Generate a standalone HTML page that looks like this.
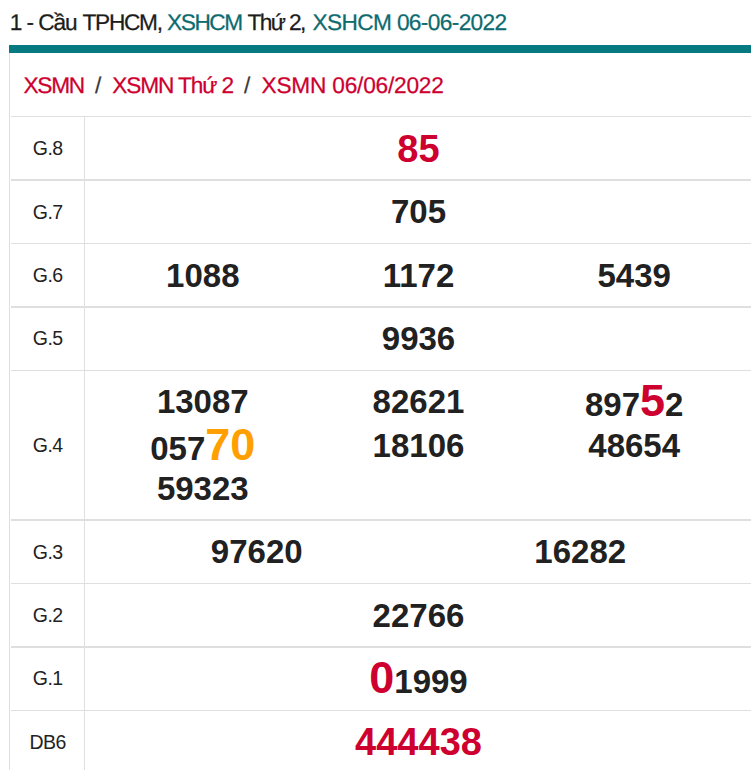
<!DOCTYPE html>
<html lang="vi">
<head>
<meta charset="utf-8">
<title>Cầu TPHCM - XSHCM 06-06-2022</title>
<style>
html,body{margin:0;padding:0;background:#fff;}
body{width:751px;height:770px;overflow:hidden;position:relative;font-family:"Liberation Sans",Arial,sans-serif;color:#212121;}
.title{position:absolute;left:0;top:11px;margin:0;height:22px;width:751px;font-size:22.7px;text-rendering:geometricPrecision;line-height:22px;font-weight:normal;color:#1c1c1c;white-space:nowrap;-webkit-text-stroke:0.25px currentColor;}
.title span{position:absolute;top:0;}
.title .t{color:#0d6b70;}
.bar{position:absolute;left:9px;top:45px;width:760px;height:8px;background:#077980;}
.card{position:absolute;left:9px;top:53px;width:760px;height:730px;border-left:1px solid #dfdfdf;}
.crumb{position:absolute;left:0;top:74px;height:22px;width:751px;font-size:22.7px;text-rendering:geometricPrecision;line-height:22px;white-space:nowrap;-webkit-text-stroke:0.25px currentColor;}
.crumb a,.crumb span{position:absolute;top:0;color:#cd0030;text-decoration:none;}
.crumb .sep{color:#3a3a3a;}
.hl{position:absolute;left:11px;width:760px;background:#dfdfdf;}
.vl{position:absolute;left:84px;top:117px;width:1px;height:660px;background:#dfdfdf;}
.lab{position:absolute;left:11px;width:73px;text-align:center;font-size:19.5px;letter-spacing:-0.5px;text-indent:0.5px;line-height:20px;color:#222;}
.n{position:absolute;width:216px;margin-left:-108px;text-align:center;font-weight:bold;font-size:33px;line-height:40px;color:#212121;white-space:nowrap;}
.n.w{width:400px;margin-left:-200px;}
.red{color:#cd0030;}
.n.sp{font-size:38px;}
.b{font-size:45px;line-height:0;}
.org{color:#ffa000;}
</style>
</head>
<body>
<h2 class="title"><span style="left:9.7px;letter-spacing:-1.08px">1 - Cầu</span> <span style="left:82.5px;letter-spacing:-1.3px">TPHCM,</span><span class="t" style="left:167px;letter-spacing:-1.43px">XSHCM</span><span style="left:247.6px;letter-spacing:-1.62px">Thứ 2,</span><span class="t" style="left:312.5px;letter-spacing:-0.64px">XSHCM 06-06-2022</span></h2>
<div class="bar"></div>
<div class="card"></div>
<div class="crumb"><a href="#" style="left:23.5px;letter-spacing:-1.27px">XSMN</a><span class="sep" style="left:95px">/</span><a href="#" style="left:112.2px;letter-spacing:-1.13px">XSMN Thứ 2</a><span class="sep" style="left:244px">/</span><a href="#" style="left:261.5px;letter-spacing:-0.22px">XSMN 06/06/2022</a></div>

<div class="hl" style="top:116px;height:1px"></div>
<div class="hl" style="top:179px;height:2px"></div>
<div class="hl" style="top:243px;height:1px"></div>
<div class="hl" style="top:306px;height:2px"></div>
<div class="hl" style="top:370px;height:1px"></div>
<div class="hl" style="top:519px;height:2px"></div>
<div class="hl" style="top:583px;height:1px"></div>
<div class="hl" style="top:646px;height:2px"></div>
<div class="hl" style="top:710px;height:1px"></div>
<div class="vl"></div>

<div class="lab" style="top:138px">G.8</div>
<div class="lab" style="top:202px">G.7</div>
<div class="lab" style="top:265px">G.6</div>
<div class="lab" style="top:328px">G.5</div>
<div class="lab" style="top:435px">G.4</div>
<div class="lab" style="top:542px">G.3</div>
<div class="lab" style="top:605px">G.2</div>
<div class="lab" style="top:668px">G.1</div>
<div class="lab" style="top:732px">DB6</div>

<div class="n w sp red" style="left:418.5px;top:129px">85</div>
<div class="n w" style="left:418.5px;top:192px">705</div>
<div class="n" style="left:202.8px;top:256px">1088</div>
<div class="n" style="left:418.5px;top:256px">1172</div>
<div class="n" style="left:634.2px;top:256px">5439</div>
<div class="n w" style="left:418.5px;top:319px">9936</div>

<div class="n" style="left:202.8px;top:382px">13087</div>
<div class="n" style="left:418.5px;top:382px">82621</div>
<div class="n" style="left:634.2px;top:385px">897<span class="b red">5</span>2</div>
<div class="n" style="left:202.8px;top:429px">057<span class="b org">70</span></div>
<div class="n" style="left:418.5px;top:426px">18106</div>
<div class="n" style="left:634.2px;top:426px">48654</div>
<div class="n" style="left:202.8px;top:469px">59323</div>

<div class="n" style="left:256.75px;top:532px">97620</div>
<div class="n" style="left:580.25px;top:532px">16282</div>
<div class="n w" style="left:418.5px;top:596px">22766</div>
<div class="n w" style="left:418.5px;top:662px"><span class="b red">0</span>1999</div>
<div class="n w sp red" style="left:418.5px;top:722px">444438</div>
</body>
</html>
